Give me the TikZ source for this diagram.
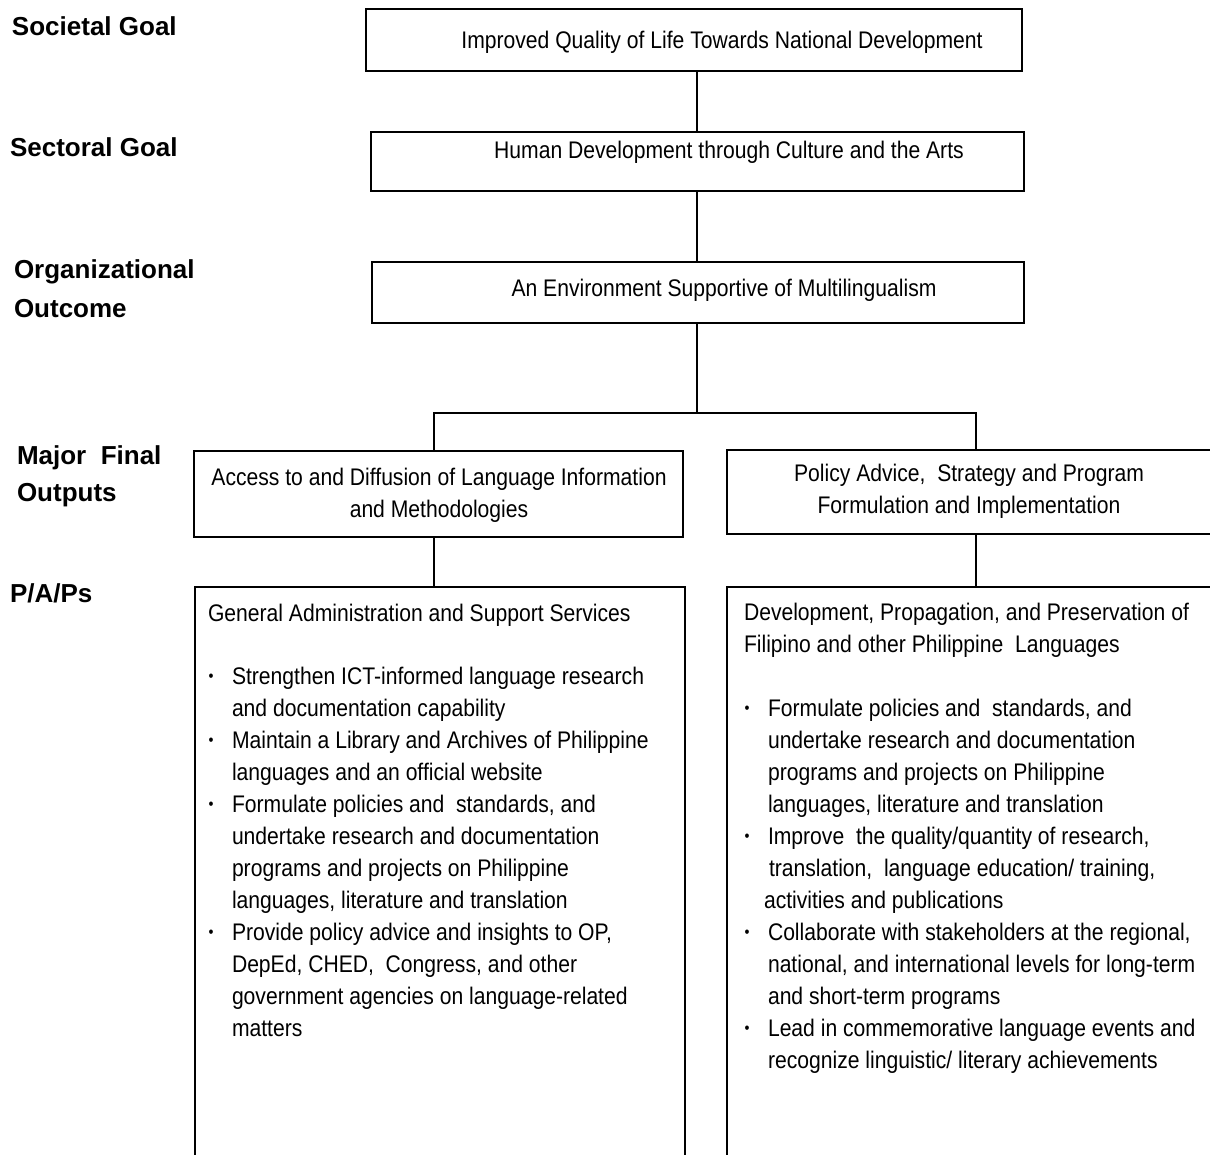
\documentclass[tikz,border=0pt]{standalone}
\usepackage{fontspec}
\setmainfont{Liberation Sans}
\newfontfamily\narrowfont[FakeStretch=0.88]{Liberation Sans}
\newcommand{\bulx}{\makebox[24pt][l]{\hspace*{0.5pt}\raisebox{3pt}{\fontsize{16}{16}\selectfont •}}}
\newcommand{\indx}{\hspace*{24pt}}
\begin{document}
\begin{tikzpicture}[x=1pt,y=-1pt,
  box/.style={draw, line width=2.6pt, inner sep=0pt, outer sep=0pt, anchor=north west},
  lbl/.style={font=\fontsize{26}{40}\selectfont\bfseries, anchor=base west, inner sep=0pt, outer sep=0pt},
  txt/.style={font=\narrowfont\fontsize{24}{32}\selectfont, inner sep=0pt, outer sep=0pt},
  conn/.style={line width=2.1pt}]
\useasboundingbox (0,0) rectangle (1210,1155);
\fill[white] (0,0) rectangle (1210,1155);
\clip (0,0) rectangle (1210,1155);

% boxes
\node[box, minimum width=656pt, minimum height=62pt] (b1) at (366,9) {};
\node[box, minimum width=653pt, minimum height=59pt] (b2) at (371,132) {};
\node[box, minimum width=652pt, minimum height=61pt] (b3) at (372,262) {};
\node[box, minimum width=489pt, minimum height=86pt] (b4) at (194,451) {};
\node[box, minimum width=486pt, minimum height=84pt] (b5) at (727,450) {};
\node[box, minimum width=490pt, minimum height=620pt] (b6) at (195,587) {};
\node[box, minimum width=490pt, minimum height=620pt] (b7) at (727,587) {};

% connectors
\coordinate (cx) at (697,0);
\coordinate (lx) at (434,0);
\coordinate (rx) at (976,0);
\coordinate (j) at (697,413);
\draw[conn] (b1.south -| cx) -- (b2.north -| cx);
\draw[conn] (b2.south -| cx) -- (b3.north -| cx);
\draw[conn] (b3.south -| cx) -- (j);
\draw[conn] (b4.north -| lx) -- (lx |- j) -- (rx |- j) -- (b5.north -| rx);
\draw[conn] (b4.south -| lx) -- (b6.north -| lx);
\draw[conn] (b5.south -| rx) -- (b7.north -| rx);

% left labels
\node[lbl] (s1) at (12,36) {Societal Goal};
\node[lbl] (s2) at (10,157) {Sectoral Goal};
\node[lbl] (s3a) at (14,279) {Organizational};
\node[lbl] (s3b) at (14,318) {Outcome};
\node[lbl] (s4a) at (17,464) {Major\ \ Final};
\node[lbl] (s4b) at (17,501) {Outputs};
\node[lbl] (s5) at (10,602) {P/A/Ps};

% box texts
\node[txt, anchor=base] (t1) at (722,49) {Improved Quality of Life Towards National Development};
\node[txt, anchor=base] (t2) at (729,159) {Human Development through Culture and the Arts};
\node[txt, anchor=base] (t3) at (724,297) {An Environment Supportive of Multilingualism};
\node[txt, anchor=north, align=center] (t4) at (439,468.6) {Access to and Diffusion of Language Information\\and Methodologies};
\node[txt, anchor=north, align=center] (t5) at (969,464.6) {Policy Advice,\ \ Strategy and Program\\Formulation and Implementation};

\node[txt, anchor=base west] (t6) at (208,621) {General Administration and Support Services};
\node[txt, anchor=north west, align=left] (t6b) at (208,667.6) {%
\bulx Strengthen ICT-informed language research\\
\indx and documentation capability\\
\bulx Maintain a Library and Archives of Philippine\\
\indx languages and an official website\\
\bulx Formulate policies and\ \ standards, and\\
\indx undertake research and documentation\\
\indx programs and projects on Philippine\\
\indx languages, literature and translation\\
\bulx Provide policy advice and insights to OP,\\
\indx DepEd, CHED,\ \ Congress, and other\\
\indx government agencies on language-related\\
\indx matters};

\node[txt, anchor=north west, align=left] (t7) at (744,603.6) {Development, Propagation, and Preservation of\\Filipino and other Philippine\ \ Languages};
\node[txt, anchor=north west, align=left] (t7b) at (744,699.6) {%
\bulx Formulate policies and\ \ standards, and\\
\indx undertake research and documentation\\
\indx programs and projects on Philippine\\
\indx languages, literature and translation\\
\bulx Improve\ \ the quality/quantity of research,\\
\hspace*{25pt}translation,\ \ language education/ training,\\
\hspace*{20pt}activities and publications\\
\bulx Collaborate with stakeholders at the regional,\\
\indx national, and international levels for long-term\\
\indx and short-term programs\\
\bulx Lead in commemorative language events and\\
\indx recognize linguistic/ literary achievements};
\end{tikzpicture}
\end{document}
